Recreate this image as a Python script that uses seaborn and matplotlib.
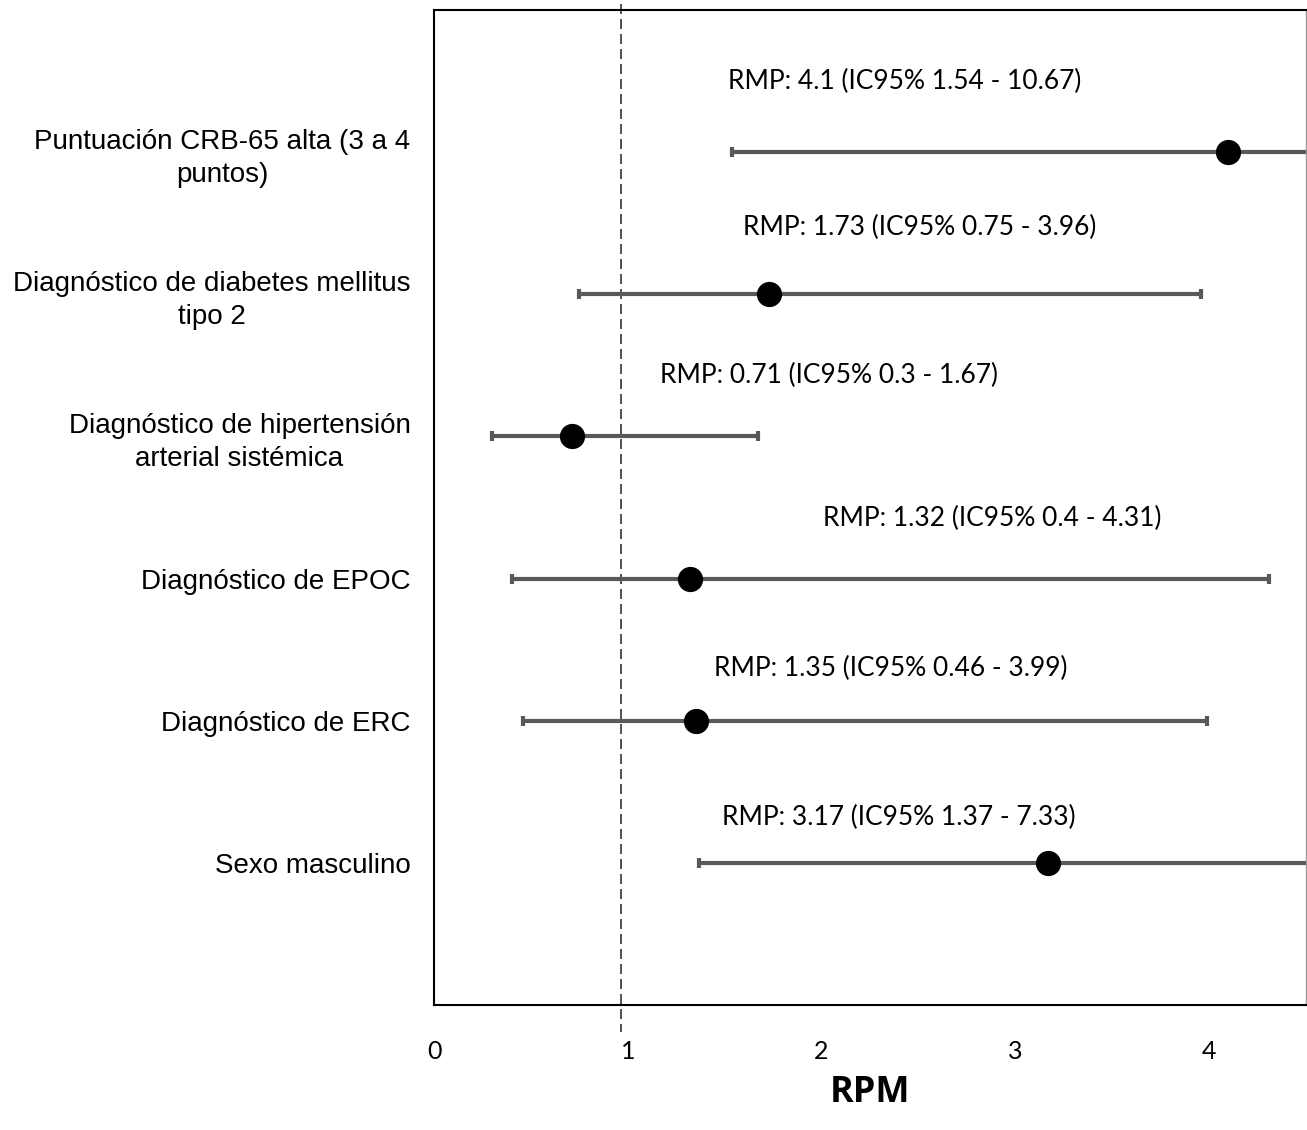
import numpy as np
import pandas as pd
import matplotlib
matplotlib.use("Agg")
import matplotlib.pyplot as plt
import seaborn as sns

categories = [
    "Puntuación CRB-65 alta (3 a 4\npuntos)",
    "Diagnóstico de diabetes mellitus\ntipo 2",
    "Diagnóstico de hipertensión\narterial sistémica",
    "Diagnóstico de EPOC",
    "Diagnóstico de ERC",
    "Sexo masculino",
]
rmp = [4.1, 1.73, 0.71, 1.32, 1.35, 3.17]
ic_low = [1.54, 0.75, 0.3, 0.4, 0.46, 1.37]
ic_high = [10.67, 3.96, 1.67, 4.31, 3.99, 7.33]

# where the data labels sit (data units)
label_x = [2.43, 2.505, 2.04, 2.88, 2.355, 2.40]
label_dy = [0.50, 0.47, 0.43, 0.42, 0.37, 0.32]

df = pd.DataFrame({"cat": categories, "rmp": rmp, "lo": ic_low, "hi": ic_high})
df["pos"] = np.arange(1, len(df) + 1)

sns.set_style("white")
plt.rcParams["font.family"] = ["Liberation Sans", "DejaVu Sans"]
plt.rcParams["text.color"] = "black"
plt.rcParams["xtick.color"] = "black"
plt.rcParams["ytick.color"] = "black"
plt.rcParams["axes.labelcolor"] = "black"

fig = plt.figure(figsize=(13.07, 11.3), dpi=100)
ax = fig.add_axes([434 / 1307, 1 - 1005 / 1130, 872 / 1307, 995 / 1130])

ax.errorbar(df["rmp"], df["pos"],
            xerr=[df["rmp"] - df["lo"], df["hi"] - df["rmp"]],
            fmt="none", ecolor="#595959", elinewidth=3, capsize=3.5, capthick=3, zorder=2)
sns.scatterplot(data=df, x="rmp", y="pos", color="black", s=330, edgecolor="black",
                linewidth=0, ax=ax, zorder=3)

for i, row in df.iterrows():
    ax.text(label_x[i], row["pos"] - label_dy[i],
            f"RMP: {row['rmp']:g} (IC95% {row['lo']:g} - {row['hi']:g})",
            ha="center", va="center", fontsize=19, family=["Lato", "DejaVu Sans"])

ax.plot([0.965, 0.965], [-0.04, 7.19], ls=(0, (6, 3)), color="#333333", lw=1.2,
        clip_on=False, zorder=1)

ax.set_xlim(0, 4.5)
ax.set_ylim(7, 0)
ax.set_xticks([0, 1, 2, 3, 4])
ax.set_xticklabels(["0", "1", "2", "3", "4"], family=["Lato", "DejaVu Sans"], fontsize=18)
ax.set_yticks(df["pos"])
ax.set_yticklabels(df["cat"], fontsize=20, multialignment="center", linespacing=1.35)
ax.tick_params(axis="both", length=0)
ax.tick_params(axis="y", pad=17)
ax.tick_params(axis="x", pad=25)
ax.set_xlabel("RPM", fontsize=26, fontweight="bold", family=["Open Sans", "DejaVu Sans"],
              labelpad=9)
ax.set_ylabel("")

for side in ["left", "top", "bottom"]:
    ax.spines[side].set_color("black")
    ax.spines[side].set_linewidth(1.5)
ax.spines["right"].set_color("#999999")
ax.spines["right"].set_linewidth(1)

fig.savefig("out.png", dpi=100)
